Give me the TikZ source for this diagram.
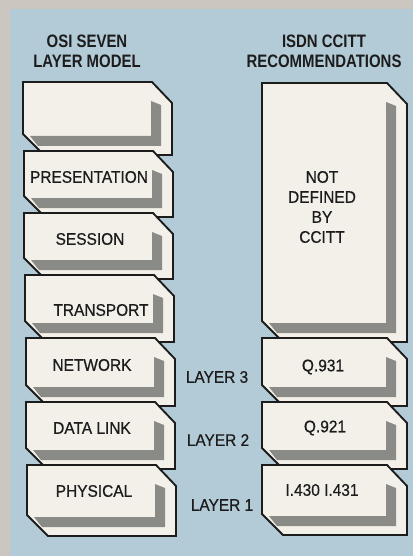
\documentclass[tikz,border=0pt]{standalone}
\usepackage{fontspec}
\setmainfont{Liberation Sans}
\newfontfamily\labelfont[FakeStretch=0.92,FakeBold=0.6]{Liberation Sans}
\newfontfamily\headfont[FakeStretch=0.83]{Liberation Sans}
\definecolor{pagegray}{HTML}{CBC7C0}
\definecolor{panelblue}{HTML}{B3CBD7}
\definecolor{boxcream}{HTML}{F3F0E9}
\definecolor{boxgray}{HTML}{8A8A86}
\definecolor{ink}{HTML}{1C1C1C}
\tikzset{
  boxface/.style={fill=boxcream, draw=ink, line width=1.4pt, line join=miter},
  boxshade/.style={fill=boxgray},
  lbl/.style={font=\labelfont\fontsize{12.6}{15}\selectfont, text=ink, inner sep=0pt, align=center},
  head/.style={font=\headfont\bfseries\fontsize{13.5}{15}\selectfont, text=ink, inner sep=0pt, align=center},
}
% #1 = left, #2 = top, #3 = right, #4 = bottom (pixel units, y downwards)
\newcommand{\layerbox}[4]{%
  \filldraw[boxface] (#1,#2) -- ({#3-20},#2) -- (#3,{#2+21}) -- (#3,#4) -- ({#1+21},#4) -- (#1,{#4-21}) -- cycle;
  \fill[boxshade] ({#3-21},{#2+19}) -- ({#3-11},{#2+23}) -- ({#3-11},{#4-9}) -- ({#1+15},{#4-9}) -- ({#1+7},{#4-19}) -- ({#3-21},{#4-19}) -- cycle;
}
\begin{document}
\begin{tikzpicture}[x=0.75pt,y=-0.75pt]
  \useasboundingbox (0,0) rectangle (413,556);
  \fill[pagegray] (0,0) rectangle (413,556);
  \fill[panelblue] (10,9) rectangle (413,556);

  % headings
  \node[head] (hosi) at (87,51) {OSI SEVEN\\LAYER MODEL};
  \node[head] (hisdn) at (324,51) {ISDN CCITT\\RECOMMENDATIONS};

  % left column (OSI layers)
  \layerbox{23}{82}{172}{155}
  \layerbox{24}{151}{173}{217}
  \layerbox{24}{213}{173}{279}
  \layerbox{25}{275}{174}{342}
  \layerbox{26}{338}{175}{406}
  \layerbox{26}{402}{175}{469}
  \layerbox{27}{465}{176}{536}

  % right column (ISDN recommendations)
  \layerbox{262}{83}{407}{342}
  \layerbox{262}{338}{407}{406}
  \layerbox{262}{402}{407}{469}
  \layerbox{262}{465}{407}{535}

  % labels
  \node[lbl] (pres) at (89,177) {PRESENTATION};
  \node[lbl] (sess) at (90,239) {SESSION};
  \node[lbl] (trans) at (101,310) {TRANSPORT};
  \node[lbl] (net) at (92,365) {NETWORK};
  \node[lbl] (dlink) at (92,428) {DATA LINK};
  \node[lbl] (phys) at (94,491) {PHYSICAL};

  \node[lbl] (l3) at (217,377) {LAYER 3};
  \node[lbl] (l2) at (218,440) {LAYER 2};
  \node[lbl] (l1) at (222,505) {LAYER 1};

  \node[lbl] (nodef) at (322,207) {NOT\\DEFINED\\BY\\CCITT};
  \node[lbl] (q931) at (323,367) {Q.931};
  \node[lbl] (q921) at (325,428) {Q.921};
  \node[lbl] (i430) at (322,490) {I.430 I.431};
\end{tikzpicture}
\end{document}
